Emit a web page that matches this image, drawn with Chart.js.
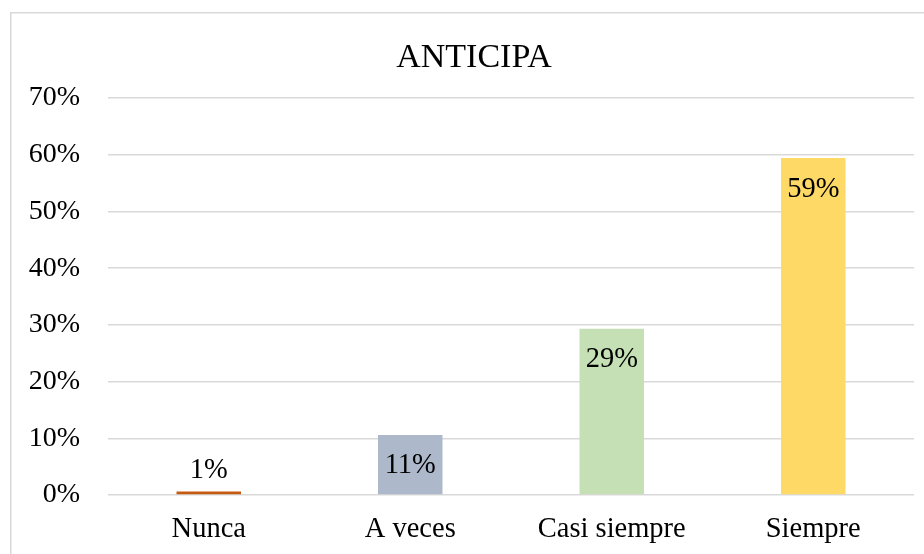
<!DOCTYPE html>
<html>
<head>
<meta charset="utf-8">
<script src="https://cdn.jsdelivr.net/npm/chart.js@4"></script>
<style>
  html, body { margin: 0; padding: 0; background: #fff; }
  #wrap { position: relative; width: 924px; height: 554px; }
</style>
</head>
<body>
<div id="wrap"><canvas id="c" width="924" height="554"></canvas></div>
<script>
const categories = ['Nunca', 'A veces', 'Casi siempre', 'Siempre'];
const values = [0.6, 10.6, 29.3, 59.4];
const valueLabels = ['1%', '11%', '29%', '59%'];
const barColors = ['#C55A11', '#ADB9CA', '#C5E0B4', '#FFD966'];
const titleText = 'ANTICIPA';

const FONT = '"Liberation Serif", "Times New Roman", serif';

const framePlugin = {
  id: 'frame',
  beforeDraw(chart) {
    const ctx = chart.ctx;
    ctx.save();
    ctx.fillStyle = '#ffffff';
    ctx.fillRect(0, 0, chart.width, chart.height);
    ctx.strokeStyle = '#d9d9d9';
    ctx.lineWidth = 1.5;
    ctx.beginPath();
    ctx.moveTo(10.75, chart.height + 2);
    ctx.lineTo(10.75, 12.75);
    ctx.lineTo(chart.width + 2, 12.75);
    ctx.stroke();
    ctx.restore();
  },
  afterDraw(chart) {
    const ctx = chart.ctx;
    ctx.save();
    ctx.fillStyle = '#000';
    ctx.font = '34px ' + FONT;
    ctx.textAlign = 'center';
    ctx.textBaseline = 'middle';
    ctx.fillText(titleText, 474, 58);
    // data labels
    const meta = chart.getDatasetMeta(0);
    ctx.font = '28.5px ' + FONT;
    meta.data.forEach((bar, i) => {
      const h = bar.base - bar.y;
      let y;
      if (h < 40) {
        y = bar.y - 21;
      } else {
        y = bar.y + 31;
      }
      ctx.fillText(valueLabels[i], bar.x, y);
    });
    ctx.restore();
  }
};

new Chart(document.getElementById('c'), {
  type: 'bar',
  data: {
    labels: categories,
    datasets: [{
      data: values,
      backgroundColor: barColors,
      borderWidth: 0,
      barPercentage: 0.32,
      categoryPercentage: 1.0
    }]
  },
  options: {
    responsive: false,
    animation: false,
    layout: { padding: { left: 0, right: 10, top: 98, bottom: 0 } },
    plugins: {
      legend: { display: false },
      tooltip: { enabled: false },
      title: { display: false }
    },
    scales: {
      x: {
        grid: { display: false, drawTicks: false },
        border: { display: false },
        ticks: {
          color: '#000',
          font: { family: FONT, size: 28.5 },
          padding: 17
        },
        afterFit(scale) { scale.height = 59; }
      },
      y: {
        min: 0,
        max: 70,
        grid: { color: '#d9d9d9', lineWidth: 1.5, drawTicks: false },
        border: { display: false },
        ticks: {
          stepSize: 10,
          color: '#000',
          font: { family: FONT, size: 28 },
          padding: 28,
          callback: v => v + '%'
        },
        afterFit(scale) { scale.width = 108; }
      }
    }
  },
  plugins: [framePlugin]
});
</script>
</body>
</html>
